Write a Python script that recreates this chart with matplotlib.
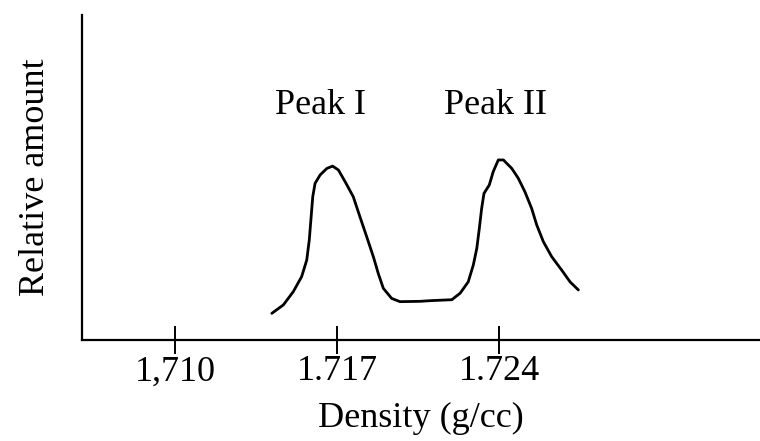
import numpy as np
import matplotlib
matplotlib.use("Agg")
import matplotlib.pyplot as plt

# curve: density (g/cc) vs relative amount (0-100 scale)
density = [1.71418, 1.71468, 1.71511, 1.71547, 1.71569, 1.71580, 1.71588, 1.71595,
           1.71605, 1.71627, 1.71656, 1.71681, 1.71706, 1.71735, 1.71770, 1.71799,
           1.71828, 1.71857, 1.71878, 1.71900, 1.71936, 1.71972, 1.72059, 1.72102,
           1.72196, 1.72232, 1.72267, 1.72289, 1.72304, 1.72315, 1.72325, 1.72335,
           1.72358, 1.72375, 1.72397, 1.72419, 1.72455, 1.72483, 1.72512, 1.72541,
           1.72563, 1.72592, 1.72628, 1.72671, 1.72707, 1.72743]
amount = [8.2, 10.8, 14.9, 19.5, 24.6, 30.8, 37.9, 44.1,
          48.2, 50.8, 52.8, 53.5, 52.3, 48.7, 44.1, 37.9,
          31.8, 25.6, 20.5, 15.9, 12.8, 11.8, 11.9, 12.1,
          12.4, 14.4, 17.9, 23.1, 28.2, 34.4, 40.5, 45.1,
          47.7, 51.8, 55.4, 55.4, 52.8, 49.8, 45.6, 40.5,
          35.4, 30.2, 25.6, 21.5, 17.9, 15.4]

tick_vals = [1.710, 1.717, 1.724]
tick_labels = ["1,710", "1.717", "1.724"]

peak_names = ["Peak I", "Peak II"]
peak_x = [1.71627, 1.72383]
peak_y = [69.5, 69.5]

plt.rcParams["font.family"] = ["Liberation Serif", "DejaVu Serif"]

fig = plt.figure(figsize=(7.6, 4.41), dpi=100)
ax = fig.add_axes([0.108, 0.229, 0.892, 0.737])

ax.plot(density, amount, color="black", lw=2.0, solid_joinstyle="round", solid_capstyle="round")

for name, x, y in zip(peak_names, peak_x, peak_y):
    ax.text(x, y, name, ha="center", va="baseline", fontsize=26)

ax.set_xlim(1.70598, 1.73528)
ax.set_ylim(0, 100)
ax.set_xticks(tick_vals)
ax.set_xticklabels(tick_labels, fontsize=26)
ax.set_yticks([])
ax.tick_params(axis="x", direction="inout", length=20, width=1.4, pad=1, colors="black")

for side in ["top", "right"]:
    ax.spines[side].set_visible(False)
for side in ["left", "bottom"]:
    ax.spines[side].set_linewidth(1.6)

ax.set_xlabel("Density (g/cc)", fontsize=26, labelpad=10)
ax.set_ylabel("Relative amount", fontsize=26, labelpad=22)

fig.savefig("out.png", dpi=100)
